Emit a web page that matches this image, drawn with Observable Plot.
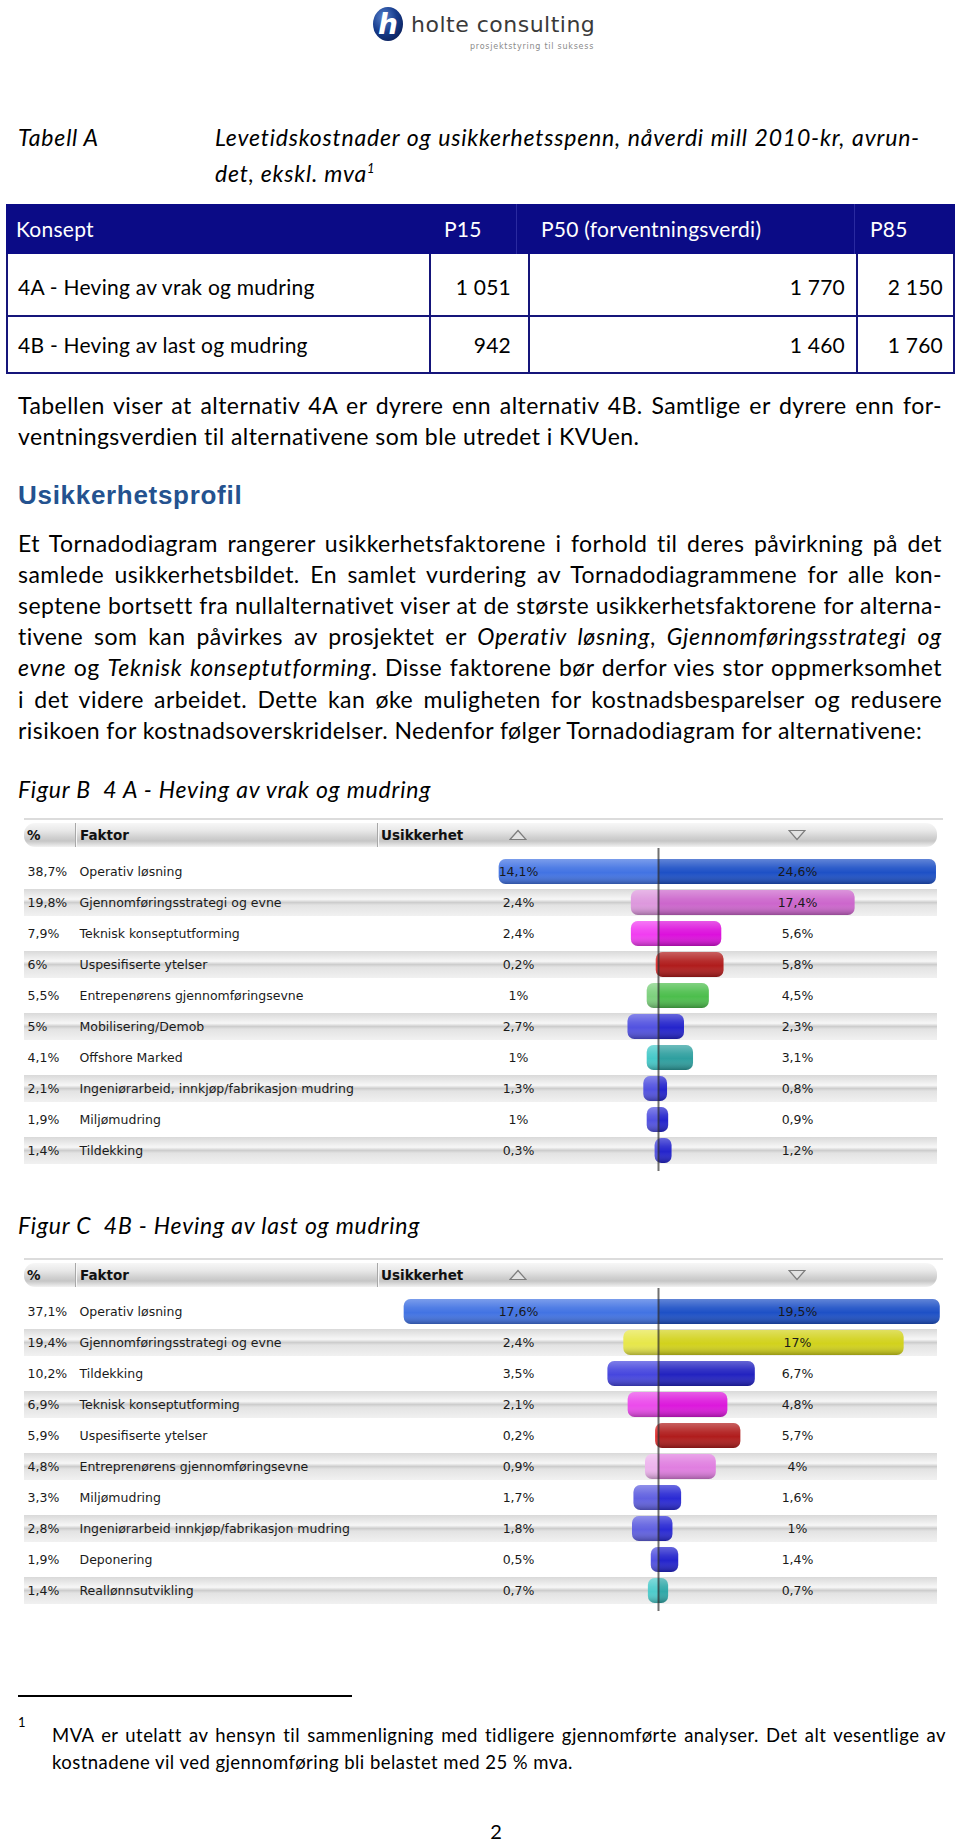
<!DOCTYPE html>
<html>
<head>
<meta charset="utf-8">
<script src="https://cdn.jsdelivr.net/npm/d3@7"></script>
<script src="https://cdn.jsdelivr.net/npm/@observablehq/plot@0.6"></script>
<style>
html, body { margin: 0; padding: 0; background: #fff; }
#page { position: relative; width: 960px; height: 1842px; overflow: hidden; font-family: Lato, "Liberation Sans", sans-serif; color: #000; }
.abs { position: absolute; white-space: nowrap; }
.body { position: absolute; left: 18px; width: 924px; font-size: 23px; letter-spacing: 0.45px; line-height: 31px; white-space: nowrap; }
.body i { letter-spacing: 0.8px; }
.j { text-align: justify; text-align-last: justify; }
.cap { position: absolute; font-style: italic; font-size: 23px; letter-spacing: 0.8px; line-height: 31px; white-space: nowrap; }
.th { position: absolute; color: #fff; font-size: 21px; letter-spacing: 0.25px; line-height: 50px; top: 204px; white-space: nowrap; }
.td { position: absolute; font-size: 21px; letter-spacing: 0.25px; line-height: 30px; white-space: nowrap; }
.vl { position: absolute; width: 1.5px; background: #15157a; }
.chead { position: absolute; left: 24px; width: 913px; height: 24px; border-radius: 11px;
  background: linear-gradient(to bottom, #f7f7f7 0%, #e9e9e9 30%, #cfcfcf 62%, #c6c6c6 75%, #e4e4e4 92%, #f2f2f2 100%); }
.chead span { position: absolute; top: 0; line-height: 24px; font-family: "DejaVu Sans", sans-serif; font-weight: bold; font-size: 13.5px; color: #111; }
.chead .hsep { position: absolute; top: 0; width: 1px; height: 24px; background: #f8f8f8; border-left: 1px solid #a8a8a8; }
.chead svg { position: absolute; top: 6px; }
.crule { position: absolute; left: 24px; width: 919px; height: 2px; background: #dcdcdc; }
.chart { position: absolute; left: 0; }
</style>
</head>
<body>
<div id="page">

  <!-- logo -->
  <svg class="abs" style="left:372px;top:6px" width="32" height="36" viewBox="0 0 32 36">
    <defs>
      <radialGradient id="logoG" cx="0.35" cy="0.3" r="0.8">
        <stop offset="0" stop-color="#5580cc"/>
        <stop offset="0.55" stop-color="#173c8c"/>
        <stop offset="1" stop-color="#0a1e58"/>
      </radialGradient>
    </defs>
    <ellipse cx="16" cy="18" rx="15" ry="17" fill="url(#logoG)"/>
    <text x="16" y="28" text-anchor="middle" fill="#fff" font-family="DejaVu Sans" font-weight="bold" font-style="italic" font-size="28">h</text>
  </svg>
  <div class="abs" style="left:411px;top:12px;font-family:'DejaVu Sans';font-size:22px;line-height:26px;color:#3a3a3a;letter-spacing:0.5px;">holte consulting</div>
  <div class="abs" style="left:470px;top:41px;font-family:'DejaVu Sans';font-size:8px;line-height:12px;color:#8a8a8a;letter-spacing:0.75px;">prosjektstyring til suksess</div>

  <!-- Tabell A caption -->
  <div class="cap" style="left:18px;top:121.5px;">Tabell A</div>
  <div class="cap j" style="left:215px;top:121.5px;width:705px;">Levetidskostnader og usikkerhetsspenn, nåverdi mill 2010-kr, avrun-</div>
  <div class="cap" style="left:215px;top:152.5px;">det, ekskl. mva<sup style="font-size:13px;">1</sup></div>

  <!-- Table -->
  <div class="abs" style="left:6px;top:204px;width:949px;height:50px;background:#0b0b86;"></div>
  <div class="abs" style="left:516px;top:204px;width:1px;height:50px;background:#2a2aa0;"></div>
  <div class="abs" style="left:854px;top:204px;width:1px;height:50px;background:#2a2aa0;"></div>
  <div class="th" style="left:16px;">Konsept</div>
  <div class="th" style="left:444px;">P15</div>
  <div class="th" style="left:541px;">P50 (forventningsverdi)</div>
  <div class="th" style="left:870px;">P85</div>
  <div class="abs" style="left:6px;top:254px;width:949px;height:120px;box-sizing:border-box;border:2px solid #15157a;border-top:none;"></div>
  <div class="abs" style="left:6px;top:315px;width:949px;height:1.5px;background:#15157a;"></div>
  <div class="vl" style="left:429px;top:254px;height:120px;"></div>
  <div class="vl" style="left:528px;top:254px;height:120px;"></div>
  <div class="vl" style="left:856px;top:254px;height:120px;"></div>
  <div class="td" style="left:18px;top:272px;">4A - Heving av vrak og mudring</div>
  <div class="td" style="left:429px;width:82px;text-align:right;top:272px;">1 051</div>
  <div class="td" style="left:528px;width:317px;text-align:right;top:272px;">1 770</div>
  <div class="td" style="left:856px;width:87px;text-align:right;top:272px;">2 150</div>
  <div class="td" style="left:18px;top:330px;">4B - Heving av last og mudring</div>
  <div class="td" style="left:429px;width:82px;text-align:right;top:330px;">942</div>
  <div class="td" style="left:528px;width:317px;text-align:right;top:330px;">1 460</div>
  <div class="td" style="left:856px;width:87px;text-align:right;top:330px;">1 760</div>

  <!-- paragraph 1 -->
  <div class="body j" style="top:389.5px;">Tabellen viser at alternativ 4A er dyrere enn alternativ 4B. Samtlige er dyrere enn for-</div>
  <div class="body" style="top:420.5px;">ventningsverdien til alternativene som ble utredet i KVUen.</div>

  <div class="abs" style="left:18px;top:479px;font-family:'Liberation Sans',Arial,sans-serif;font-weight:bold;font-size:26px;letter-spacing:0.7px;line-height:32px;color:#24528f;">Usikkerhetsprofil</div>

  <!-- paragraph 2 -->
  <div class="body j" style="top:527.5px;">Et Tornadodiagram rangerer usikkerhetsfaktorene i forhold til deres påvirkning på det</div>
  <div class="body j" style="top:558.5px;">samlede usikkerhetsbildet. En samlet vurdering av Tornadodiagrammene for alle kon-</div>
  <div class="body j" style="top:589.5px;">septene bortsett fra nullalternativet viser at de største usikkerhetsfaktorene for alterna-</div>
  <div class="body j" style="top:620.5px;">tivene som kan påvirkes av prosjektet er <i>Operativ løsning</i>, <i>Gjennomføringsstrategi og</i></div>
  <div class="body j" style="top:651.5px;"><i>evne</i> og <i>Teknisk konseptutforming</i>. Disse faktorene bør derfor vies stor oppmerksomhet</div>
  <div class="body j" style="top:683.5px;">i det videre arbeidet. Dette kan øke muligheten for kostnadsbesparelser og redusere</div>
  <div class="body" style="top:714.5px;">risikoen for kostnadsoverskridelser. Nedenfor følger Tornadodiagram for alternativene:</div>

  <!-- Figure B -->
  <div class="cap" style="left:18px;top:773.5px;">Figur B&nbsp; 4 A - Heving av vrak og mudring</div>
  <div class="crule" style="top:818px;"></div>
  <div class="chead" style="top:823px;">
    <div class="hsep" style="left:51px;"></div>
    <div class="hsep" style="left:353px;"></div>
    <span style="left:3px;">%</span>
    <span style="left:56px;">Faktor</span>
    <span style="left:357px;">Usikkerhet</span>
    <svg style="left:485px;" width="18" height="12"><polygon points="1,10.5 9,1.5 17,10.5" fill="#e2e2e2" stroke="#7c7c7c" stroke-width="1.2"/></svg>
    <svg style="left:764px;" width="18" height="12"><polygon points="1,1.5 17,1.5 9,10.5" fill="#e2e2e2" stroke="#7c7c7c" stroke-width="1.2"/></svg>
  </div>
  <div id="chartB" class="chart" style="top:848px;"></div>

  <!-- Figure C -->
  <div class="cap" style="left:18px;top:1209.5px;">Figur C&nbsp; 4B - Heving av last og mudring</div>
  <div class="crule" style="top:1258px;"></div>
  <div class="chead" style="top:1263px;">
    <div class="hsep" style="left:51px;"></div>
    <div class="hsep" style="left:353px;"></div>
    <span style="left:3px;">%</span>
    <span style="left:56px;">Faktor</span>
    <span style="left:357px;">Usikkerhet</span>
    <svg style="left:485px;" width="18" height="12"><polygon points="1,10.5 9,1.5 17,10.5" fill="#e2e2e2" stroke="#7c7c7c" stroke-width="1.2"/></svg>
    <svg style="left:764px;" width="18" height="12"><polygon points="1,1.5 17,1.5 9,10.5" fill="#e2e2e2" stroke="#7c7c7c" stroke-width="1.2"/></svg>
  </div>
  <div id="chartC" class="chart" style="top:1288px;"></div>

  <!-- footnote -->
  <div class="abs" style="left:18px;top:1695px;width:334px;height:1.5px;background:#000;"></div>
  <div class="abs" style="left:18px;top:1714px;font-size:13px;line-height:16px;">1</div>
  <div class="abs j" style="left:52px;top:1721.5px;width:894px;font-size:18.5px;letter-spacing:0.45px;line-height:27px;">MVA er utelatt av hensyn til sammenligning med tidligere gjennomførte analyser. Det alt vesentlige av</div>
  <div class="abs" style="left:52px;top:1748.5px;font-size:18.5px;letter-spacing:0.45px;line-height:27px;">kostnadene vil ved gjennomføring bli belastet med 25 % mva.</div>

  <div class="abs" style="left:476px;width:40px;text-align:center;top:1819px;font-size:20px;line-height:24px;">2</div>
</div>

<script>
// ---------- data: Figur B (4A - Heving av vrak og mudring) ----------
const factorsB = ["Operativ løsning", "Gjennomføringsstrategi og evne", "Teknisk konseptutforming",
  "Uspesifiserte ytelser", "Entrepenørens gjennomføringsevne", "Mobilisering/Demob", "Offshore Marked",
  "Ingeniørarbeid, innkjøp/fabrikasjon mudring", "Miljømudring", "Tildekking"];
const shareB = [38.7, 19.8, 7.9, 6, 5.5, 5, 4.1, 2.1, 1.9, 1.4];
const lowB   = [14.1, 2.4, 2.4, 0.2, 1, 2.7, 1, 1.3, 1, 0.3];
const highB  = [24.6, 17.4, 5.6, 5.8, 4.5, 2.3, 3.1, 0.8, 0.9, 1.2];

// ---------- data: Figur C (4B - Heving av last og mudring) ----------
const factorsC = ["Operativ løsning", "Gjennomføringsstrategi og evne", "Tildekking",
  "Teknisk konseptutforming", "Uspesifiserte ytelser", "Entreprenørens gjennomføringsevne", "Miljømudring",
  "Ingeniørarbeid innkjøp/fabrikasjon mudring", "Deponering", "Reallønnsutvikling"];
const shareC = [37.1, 19.4, 10.2, 6.9, 5.9, 4.8, 3.3, 2.8, 1.9, 1.4];
const lowC   = [17.6, 2.4, 3.5, 2.1, 0.2, 0.9, 1.7, 1.8, 0.5, 0.7];
const highC  = [19.5, 17, 6.7, 4.8, 5.7, 4, 1.6, 1, 1.4, 0.7];

// ---------- styles ----------
const paletteB = ["#1d50c6", "#cc66cc", "#dc10dc", "#b01c1c", "#4cbe4c", "#2424cc", "#2e9f9f", "#2424cc", "#2424cc", "#2424cc"];
const paletteC = ["#1d50c6", "#d2d21c", "#2222c0", "#dc18dc", "#b01c1c", "#e07ee0", "#2a2ad4", "#2a2ad4", "#2424cc", "#30a8a8"];

const fmt = v => String(v).replace(".", ",") + "%";

function lighter(c) {
  const h = d3.hsl(c);
  h.l = Math.min(0.85, h.l + 0.13);
  return h.formatHex();
}

function tornado(key, factors, shares, lows, highs, palette, pxPerPct) {
  const rows = factors.map((factor, i) => ({i, factor, share: shares[i], low: lows[i], high: highs[i]}));
  const rowH = 31.7, y0 = 4.15, cx = 658;

  const defsMark = () => {
    const defs = d3.create("svg:defs");
    const st = defs.append("linearGradient").attr("id", `${key}-stripe`).attr("x1", 0).attr("y1", 0).attr("x2", 0).attr("y2", 1);
    [[0, "#d9d9d9"], [0.38, "#f7f7f7"], [0.5, "#cdcdcd"], [0.6, "#e3e3e3"], [1, "#f1f1f1"]]
      .forEach(([o, c]) => st.append("stop").attr("offset", o).attr("stop-color", c));
    const gl = defs.append("linearGradient").attr("id", `${key}-gloss`).attr("x1", 0).attr("y1", 0).attr("x2", 0).attr("y2", 1);
    [[0, "#fff", 0.3], [0.35, "#fff", 0.08], [0.55, "#fff", 0], [1, "#000", 0.28]]
      .forEach(([o, c, a]) => gl.append("stop").attr("offset", o).attr("stop-color", c).attr("stop-opacity", a));
    rows.forEach(r => {
      const base = palette[r.i];
      const light = lighter(base);
      const s = r.low / (r.low + r.high);
      const g = defs.append("linearGradient").attr("id", `${key}-g${r.i}`).attr("x1", 0).attr("y1", 0).attr("x2", 1).attr("y2", 0);
      [[0, light], [s, light], [s, base], [1, base]].forEach(([o, c]) => g.append("stop").attr("offset", o).attr("stop-color", c));
    });
    return defs.node();
  };

  return Plot.plot({
    width: 960,
    height: 323,
    marginLeft: 24, marginRight: 23, marginTop: 0, marginBottom: 0,
    style: {background: "transparent", fontFamily: "DejaVu Sans, sans-serif", fontSize: "12.5px", color: "#1a1a1a"},
    x: {domain: [-20, 20], range: [cx - 20 * pxPerPct, cx + 20 * pxPerPct], axis: null},
    y: {domain: factors, range: [y0, y0 + factors.length * rowH], padding: 0, axis: null},
    color: {type: "identity"},
    marks: [
      defsMark,
      Plot.cell(rows.filter(d => d.i % 2 === 1), {y: "factor", fill: () => `url(#${key}-stripe)`, insetTop: 2, insetBottom: 2}),
      Plot.barX(rows, {x1: d => -d.low, x2: "high", y: "factor", fill: d => `url(#${key}-g${d.i})`, rx: 7, insetTop: 3, insetBottom: 3}),
      Plot.barX(rows, {x1: d => -d.low, x2: "high", y: "factor", fill: () => `url(#${key}-gloss)`, rx: 7, insetTop: 3, insetBottom: 3}),
      Plot.ruleX([0], {stroke: "#333", strokeWidth: 2, strokeOpacity: 0.7}),
      Plot.text(rows, {y: "factor", text: d => fmt(d.share), frameAnchor: "left", dx: 3, textAnchor: "start"}),
      Plot.text(rows, {y: "factor", text: "factor", frameAnchor: "left", dx: 55, textAnchor: "start"}),
      Plot.text(rows, {y: "factor", text: d => fmt(d.low), frameAnchor: "left", dx: 494, textAnchor: "middle", ariaLabel: "low-labels"}),
      Plot.text(rows, {y: "factor", text: d => fmt(d.high), frameAnchor: "left", dx: 773, textAnchor: "middle", ariaLabel: "high-labels"})
    ]
  });
}

function boxLabels(svg) {
  const ns = "http://www.w3.org/2000/svg";
  svg.querySelectorAll('[aria-label="low-labels"] text, [aria-label="high-labels"] text').forEach(t => {
    const b = t.getBBox();
    const r = document.createElementNS(ns, "rect");
    r.setAttribute("x", b.x - 2.5);
    r.setAttribute("y", b.y - 2);
    r.setAttribute("width", b.width + 5);
    r.setAttribute("height", b.height + 4);
    r.setAttribute("fill", "#ffffff");
    r.setAttribute("fill-opacity", "0.6");
    r.setAttribute("stroke", "#a8a8a8");
    r.setAttribute("stroke-width", "1");
    const tr = t.getAttribute("transform");
    if (tr) r.setAttribute("transform", tr);
    t.parentNode.insertBefore(r, t);
  });
}

const svgB = tornado("tb", factorsB, shareB, lowB, highB, paletteB, 11.3);
document.getElementById("chartB").append(svgB);
boxLabels(svgB);

const svgC = tornado("tc", factorsC, shareC, lowC, highC, paletteC, 14.45);
document.getElementById("chartC").append(svgC);
boxLabels(svgC);
</script>
</body>
</html>
